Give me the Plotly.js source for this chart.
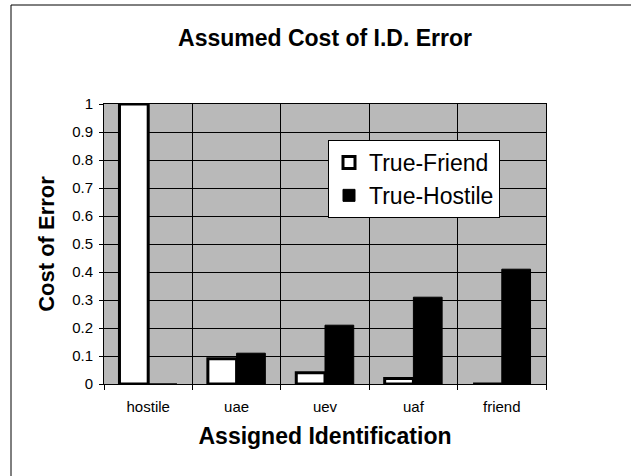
<!DOCTYPE html>
<html>
<head>
<meta charset="utf-8">
<script src="https://cdn.plot.ly/plotly-3.0.1.min.js"></script>
<style>
  html, body { margin: 0; padding: 0; background: #ffffff; }
  #chart { width: 631px; height: 476px; }
</style>
</head>
<body>
<div id="chart"></div>
<script>
// ---- data ----
const categories = ['hostile', 'uae', 'uev', 'uaf', 'friend'];
const trueFriend = [1, 0.09, 0.04, 0.02, 0];
const trueHostile = [0, 0.11, 0.21, 0.31, 0.41];
const seriesNames = ['True-Friend', 'True-Hostile'];
const yTickValues = [0, 0.1, 0.2, 0.3, 0.4, 0.5, 0.6, 0.7, 0.8, 0.9, 1];
const chartTitle = 'Assumed Cost of I.D. Error';
const xTitle = 'Assigned Identification';
const yTitle = 'Cost of Error';

const FONT = '"Liberation Sans", Arial, Helvetica, sans-serif';

const traces = [
  {
    type: 'bar', name: seriesNames[0], x: categories, y: trueFriend,
    marker: { color: '#ffffff', line: { color: '#000000', width: 3 } }
  },
  {
    type: 'bar', name: seriesNames[1], x: categories, y: trueHostile,
    marker: { color: '#000000', line: { color: '#000000', width: 1 } }
  }
];

// plot area in pixels: left 104, right 546, top 104, bottom 384
const L = 104, R = 546, T = 104, B = 384;
const px = v => (v - L) / (R - L);
const py = v => (B - v) / (B - T);

const layout = {
  width: 631, height: 476,
  margin: { l: L, r: 631 - R, t: T, b: 476 - B, pad: 0 },
  paper_bgcolor: '#ffffff',
  plot_bgcolor: '#b9b9b9',
  font: { family: FONT, color: '#000000', size: 15 },
  showlegend: true,
  barmode: 'group',
  bargap: 0.35,
  bargroupgap: 0,
  title: {
    text: chartTitle,
    font: { family: FONT, size: 23, weight: 700, color: '#000000' },
    x: 0.5, xref: 'paper', xanchor: 'center',
    y: 1 - 38 / 476, yref: 'container', yanchor: 'middle'
  },
  xaxis: {
    type: 'category',
    automargin: false,
    tickson: 'boundaries',
    ticks: 'outside', ticklen: 5, tickwidth: 1, tickcolor: '#000000',
    ticklabelstandoff: 9,
    tickfont: { family: FONT, size: 15, color: '#000000' },
    showline: true, linecolor: '#000000', linewidth: 1, mirror: true,
    showgrid: true, gridcolor: '#000000', gridwidth: 1,
    zeroline: false,
    title: {
      text: xTitle,
      font: { family: FONT, size: 23, weight: 700, color: '#000000' },
      standoff: 13
    }
  },
  yaxis: {
    automargin: false,
    range: [0, 1],
    tickmode: 'array', tickvals: yTickValues,
    ticktext: yTickValues.map(v => String(v)),
    ticks: 'outside', ticklen: 4, tickwidth: 1, tickcolor: '#000000',
    ticklabelstandoff: 3,
    tickfont: { family: FONT, size: 15, color: '#000000' },
    showline: true, linecolor: '#000000', linewidth: 1, mirror: true,
    showgrid: true, gridcolor: '#000000', gridwidth: 1,
    zeroline: false,
    title: {
      text: yTitle,
      font: { family: FONT, size: 22, weight: 700, color: '#000000' },
      standoff: 11
    }
  },
  legend: {
    x: px(328), xanchor: 'left',
    y: py(140), yanchor: 'top',
    bgcolor: '#ffffff',
    bordercolor: '#000000', borderwidth: 1,
    font: { family: FONT, size: 23, color: '#000000' },
    traceorder: 'normal',
    itemwidth: 30
  },
  shapes: [
    { type: 'line', xref: 'paper', yref: 'paper',
      x0: px(11), x1: px(640), y0: py(5), y1: py(5),
      line: { color: '#000000', width: 1 } },
    { type: 'line', xref: 'paper', yref: 'paper',
      x0: px(11), x1: px(11), y0: py(5), y1: py(480),
      line: { color: '#000000', width: 1 } }
  ]
};

Plotly.newPlot('chart', traces, layout, { staticPlot: true, displayModeBar: false });
</script>
</body>
</html>
